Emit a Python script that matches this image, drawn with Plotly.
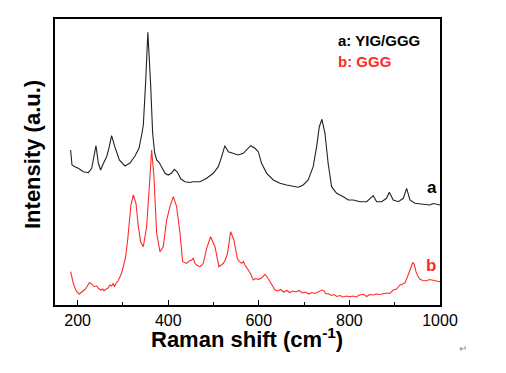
import plotly.graph_objects as go

# Curve a: YIG/GGG (black)
a_x = [184.5, 187.5, 194, 201.5, 212.5, 223.6, 231, 236, 240.5, 245.7, 250.8, 257, 264, 269, 275, 282,
       292, 304.5, 315.5, 326.6, 335.4, 341.3, 345, 350, 355, 361, 365.6, 370, 374.5, 380, 386,
       393, 400, 407.5, 413.5, 420, 428, 437, 447, 455, 470, 484.8, 499.5, 510.5, 518, 525, 532.6,
       543.6, 554.7, 565.7, 576.7, 582, 591.5, 598.8, 606, 617.4, 632, 646.7, 661.4, 676, 687, 698,
       709, 720, 727.6, 733.5, 739.4, 746, 753, 760.7, 771.7, 786.5, 797.5, 808.5, 823.3, 838,
       846.8, 852.7, 860, 871, 882, 888, 896.8, 907.9, 919, 926.3, 933.6, 944.7, 963, 977.8, 985,
       992.5, 1000]
a_y = [155, 140, 138.3, 136.7, 133.3, 132.3, 136.7, 148, 159.3, 141.7, 135, 141.7, 148.3, 156.7,
       169.3, 158.3, 145, 139, 142, 149, 156.7, 170, 180, 221.7, 272.7, 221.7, 171.7, 152, 145,
       142.5, 138, 131.7, 130, 132, 135.7, 133, 126, 123.3, 122.5, 123.3, 123.3, 126.7, 131.7,
       138.3, 148.3, 159.3, 153.3, 151.7, 150, 151.7, 156.7, 159.3, 156.7, 153.3, 141.7, 131.7, 125,
       121.7, 120, 118.3, 117.7, 120, 125, 138.3, 158.3, 178.3, 185.7, 171.7, 141.7, 118.3, 111.7,
       108.3, 105, 105, 103.3, 103.3, 106.7, 109.3, 103.3, 103.3, 106.7, 112.7, 105, 103.3, 106.7,
       116.7, 105, 101.7, 100.7, 100, 101.5, 100.7, 100]

# Curve b: GGG (red)
b_x = [184.5, 187, 190.4, 194, 197.8, 203.7, 208, 212.4, 216, 219.9, 225.7, 231, 236, 242, 246, 250.8,
       255, 258, 263, 267, 271.4, 275, 278.7, 281, 285, 289, 293.5, 297, 300.8, 306, 310.4, 314,
       317.7, 322.9, 328.8, 334, 339, 345, 352.3, 358.2, 363.4, 368.5, 374.4, 381.8, 389, 396.5,
       403.8, 411.2, 418.5, 426, 431.8, 436, 440.6, 446, 451.7, 455, 459, 464, 470, 474, 477.4,
       484.8, 493.6, 503.2, 512, 517, 521.6, 526, 531, 537.7, 545, 552.5, 556, 562, 566, 569.4,
       573, 576.7, 582, 587.8, 593, 598.8, 606, 613.6, 620, 624.7, 628, 635.7, 642, 648, 655, 662,
       668, 675, 682, 689, 696, 703, 710, 717, 724, 731, 738.8, 744, 748, 753.4, 760, 766, 772,
       779.2, 786, 793, 801.3, 808, 815, 822, 830.7, 838, 845, 852.8, 860, 867, 874.9, 882, 889,
       897, 904, 911.7, 918, 922.8, 928, 933.8, 939.7, 943, 947, 951, 955.8, 962, 970.6, 977,
       985.3, 992, 998.5, 1000]
b_y = [33.3, 27, 21.7, 17, 13.3, 11, 12.5, 14, 15.5, 17.7, 22.3, 21, 18.5, 19, 16.5, 15, 16, 14.3,
       15.5, 17, 20, 19, 21.7, 18.3, 22, 24, 28.3, 32, 38.3, 48.3, 65, 85, 100, 110, 101.7, 78.3,
       63.3, 58.3, 78.3, 118.3, 155, 128.3, 71.7, 53.3, 58.3, 85, 98.3, 108.3, 98.3, 71.7, 43.3,
       42.5, 41.7, 44, 45, 47, 41.7, 39.5, 38.3, 40, 41.7, 56.7, 68.3, 58.3, 38.3, 40, 41.7, 45,
       51.7, 73.3, 65, 46.7, 44, 41.7, 43.5, 40, 38, 35, 31, 25, 26.5, 25.7, 27, 30.7, 27, 23.3,
       20, 15, 14, 15.5, 13, 14.5, 12.5, 14, 13, 14.5, 12, 13, 11, 12.5, 11.5, 13, 15, 14, 11,
       11.5, 9.5, 10.5, 8.5, 9.5, 8, 9, 8.3, 9, 8, 10, 10.7, 8.5, 10.5, 10, 11, 10.5, 11.7, 12,
       11.5, 15, 16, 20, 21, 22.3, 28, 35, 42.3, 41, 33.3, 29, 25.7, 24.5, 24.3, 25.5, 25, 24,
       23.3, 23.5]

x_ticks = [200, 400, 600, 800, 1000]
x_minor = [300, 500, 700, 900]

FONT = "Arial, Liberation Sans, sans-serif"
RED = "#ff2a2a"

# page body adds an 8px offset; plot frame should land at x 55..440, y 19..305 on screen
L, T, PW, PH = 47, 11, 385, 286


def px(xs):
    return (xs - 55) / PW


def py(ys):
    return (305 - ys) / PH


fig = go.Figure()
fig.add_trace(go.Scatter(x=a_x, y=a_y, mode="lines", line=dict(color="#222222", width=1.1),
                         showlegend=False, hoverinfo="skip"))
fig.add_trace(go.Scatter(x=b_x, y=b_y, mode="lines", line=dict(color=RED, width=1.1),
                         showlegend=False, hoverinfo="skip"))

fig.update_layout(
    width=498, height=365,
    margin=dict(l=L, r=498 - L - PW, t=T, b=365 - T - PH),
    paper_bgcolor="white", plot_bgcolor="white",
    font=dict(family=FONT, color="black"),
    xaxis=dict(range=[150, 1000], tickvals=x_ticks, ticks="inside", ticklen=5, tickwidth=1.2,
               tickcolor="black", showline=True, linecolor="black", linewidth=1.5, mirror=True,
               showgrid=False, zeroline=False, tickfont=dict(size=16, family=FONT),
               automargin=False,
               minor=dict(tickvals=x_minor, ticks="inside", ticklen=3,
                          tickcolor="black", tickwidth=1.2)),
    yaxis=dict(range=[0, 286], showticklabels=False, ticks="", showline=True, linecolor="black",
               linewidth=1.5, mirror=True, showgrid=False, zeroline=False, automargin=False),
)

# axis titles
fig.add_annotation(xref="paper", yref="paper", x=px(247), y=py(338),
                   text="<b>Raman shift (cm<sup>-1</sup>)</b>", showarrow=False,
                   xanchor="center", yanchor="middle", font=dict(size=22, family=FONT, color="black"))
fig.add_annotation(xref="paper", yref="paper", x=px(32), y=py(155), textangle=-90,
                   text="<b>Intensity (a.u.)</b>", showarrow=False,
                   xanchor="center", yanchor="middle", font=dict(size=22, family=FONT, color="black"))

# legend-like labels
fig.add_annotation(xref="paper", yref="paper", x=px(336), y=py(40),
                   text="<b>a: YIG/GGG</b>", showarrow=False, xanchor="left", yanchor="middle",
                   font=dict(size=15, color="black", family=FONT))
fig.add_annotation(xref="paper", yref="paper", x=px(336), y=py(62),
                   text="<b>b: GGG</b>", showarrow=False, xanchor="left", yanchor="middle",
                   font=dict(size=15, color=RED, family=FONT))
fig.add_annotation(xref="paper", yref="paper", x=px(432), y=py(188),
                   text="<b>a</b>", showarrow=False, xanchor="center", yanchor="middle",
                   font=dict(size=17, color="black", family=FONT))
fig.add_annotation(xref="paper", yref="paper", x=px(431), y=py(265),
                   text="<b>b</b>", showarrow=False, xanchor="center", yanchor="middle",
                   font=dict(size=17, color=RED, family=FONT))
fig.add_annotation(xref="paper", yref="paper", x=px(463), y=py(348),
                   text="↵", showarrow=False, xanchor="center", yanchor="middle",
                   font=dict(size=10, color="#888888", family=FONT))

fig.write_html("out.html")
